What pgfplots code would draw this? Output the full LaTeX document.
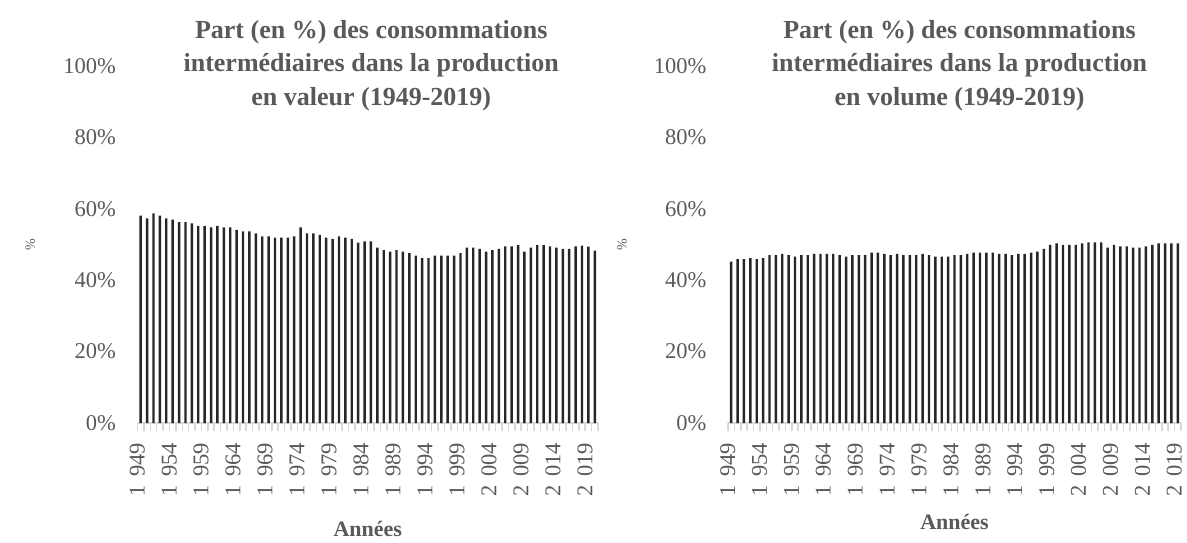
\documentclass[border=0pt]{standalone}
\usepackage{fontspec}
\setmainfont{Liberation Serif}
\usepackage{pgfplots}
\pgfplotsset{compat=1.18}
\definecolor{txt}{HTML}{595959}
\definecolor{axg}{HTML}{D9D9D9}
\definecolor{barc}{HTML}{262626}
\newcommand\ts{\kern0.35em}
\pgfplotsset{mystyle/.style={
  scale only axis, height=357pt,
  ymin=0, ymax=100, xmin=1948.5,
  ytick={0,20,40,60,80,100},
  yticklabels={0\%,20\%,40\%,60\%,80\%,100\%},
  xtick={1949,1954,...,2019},
  xticklabels={1\ts949,1\ts954,1\ts959,1\ts964,1\ts969,1\ts974,1\ts979,1\ts984,1\ts989,1\ts994,1\ts999,2\ts004,2\ts009,2\ts014,2\ts019},
  axis x line*=bottom, axis y line*=left,
  y axis line style={draw=none},
  x axis line style={-, draw=axg, line width=2pt},
  ytick style={draw=none},
  major tick length=0pt,
  minor tick length=8pt,
  tick align=outside,
  minor tick style={draw=axg, line width=1.5pt},
  yticklabel style={font=\fontsize{22.5}{26}\selectfont, text=txt, xshift=-18pt},
  xticklabel style={xshift=-3.5pt, yshift=-19pt, rotate=90, anchor=east, inner sep=1pt, font=\fontsize{22.5}{26}\selectfont, text=txt},
  title style={font=\bfseries\fontsize{26}{33.5}\selectfont, text=txt, align=center, at={(0.5,1)}, anchor=north, yshift=40pt, inner sep=0pt},
  ylabel={\%},
  xlabel={Années},
  ybar, bar width=0.38,
}}
\begin{document}
\begin{tikzpicture}
\path[use as bounding box] (0,0) rectangle (1187pt,542pt);
\begin{axis}[mystyle, at={(137.5pt,119pt)}, anchor=south west, width=460.5pt,
  xmax=2020.5, minor xtick={1948.5,1949.5,...,2020.5},
  ylabel style={at={(axis description cs:-0.233,0.5)}, anchor=center, font=\fontsize{14}{16}\selectfont, text=txt},
  xlabel style={at={(axis description cs:0.5,-0.298)}, anchor=center, inner sep=0pt, font=\bfseries\fontsize{22}{24}\selectfont, text=txt},
  title style={xshift=3.5pt},
  title={Part (en \%) des consommations\\intermédiaires dans la production\\en valeur (1949-2019)}]
\addplot[fill=barc, draw=none] coordinates {
(1949,58.1)(1950,57.3)(1951,58.7)(1952,58.1)(1953,57.3)(1954,57.0)(1955,56.3)(1956,56.3)(1957,55.9)(1958,55.2)
(1959,55.2)(1960,54.8)(1961,55.2)(1962,54.8)(1963,54.8)(1964,54.1)(1965,53.7)(1966,53.7)(1967,53.1)(1968,52.3)
(1969,52.3)(1970,51.9)(1971,51.9)(1972,51.9)(1973,52.3)(1974,54.8)(1975,53.1)(1976,53.1)(1977,52.7)(1978,51.9)
(1979,51.6)(1980,52.3)(1981,51.9)(1982,51.6)(1983,50.5)(1984,50.9)(1985,50.9)(1986,49.1)(1987,48.4)(1988,48.0)
(1989,48.4)(1990,48.0)(1991,47.6)(1992,46.9)(1993,46.2)(1994,46.2)(1995,46.9)(1996,46.9)(1997,46.9)(1998,46.9)
(1999,47.6)(2000,49.1)(2001,49.1)(2002,48.8)(2003,48.0)(2004,48.4)(2005,48.8)(2006,49.5)(2007,49.5)(2008,49.8)
(2009,48.0)(2010,49.1)(2011,49.8)(2012,49.8)(2013,49.5)(2014,49.1)(2015,48.8)(2016,48.8)(2017,49.5)(2018,49.7)
(2019,49.4)(2020,48.3)
};
\end{axis}
\begin{axis}[mystyle, at={(728pt,119pt)}, anchor=south west, width=453pt,
  xmax=2019.5, minor xtick={1948.5,1949.5,...,2019.5},
  ylabel style={at={(axis description cs:-0.234,0.5)}, anchor=center, font=\fontsize{14}{16}\selectfont, text=txt},
  xlabel style={at={(axis description cs:0.5,-0.278)}, anchor=center, inner sep=0pt, font=\bfseries\fontsize{22}{24}\selectfont, text=txt},
  title style={xshift=5pt},
  title={Part (en \%) des consommations\\intermédiaires dans la production\\en volume (1949-2019)}]
\addplot[fill=barc, draw=none] coordinates {
(1949,45.2)(1950,45.9)(1951,45.9)(1952,46.2)(1953,45.9)(1954,46.2)(1955,47.0)(1956,47.0)(1957,47.4)(1958,47.0)
(1959,46.6)(1960,47.0)(1961,47.0)(1962,47.4)(1963,47.4)(1964,47.4)(1965,47.4)(1966,47.0)(1967,46.6)(1968,47.0)
(1969,47.0)(1970,47.0)(1971,47.7)(1972,47.7)(1973,47.4)(1974,47.0)(1975,47.4)(1976,47.0)(1977,47.0)(1978,47.0)
(1979,47.4)(1980,47.0)(1981,46.6)(1982,46.6)(1983,46.6)(1984,47.0)(1985,47.0)(1986,47.4)(1987,47.7)(1988,47.7)
(1989,47.7)(1990,47.7)(1991,47.4)(1992,47.4)(1993,47.0)(1994,47.4)(1995,47.4)(1996,47.7)(1997,48.0)(1998,48.8)
(1999,49.9)(2000,50.3)(2001,49.9)(2002,49.9)(2003,49.9)(2004,50.3)(2005,50.6)(2006,50.6)(2007,50.6)(2008,49.1)
(2009,49.9)(2010,49.5)(2011,49.5)(2012,49.1)(2013,49.1)(2014,49.5)(2015,49.9)(2016,50.3)(2017,50.3)(2018,50.3)
(2019,50.3)
};
\end{axis}
\end{tikzpicture}
\end{document}
